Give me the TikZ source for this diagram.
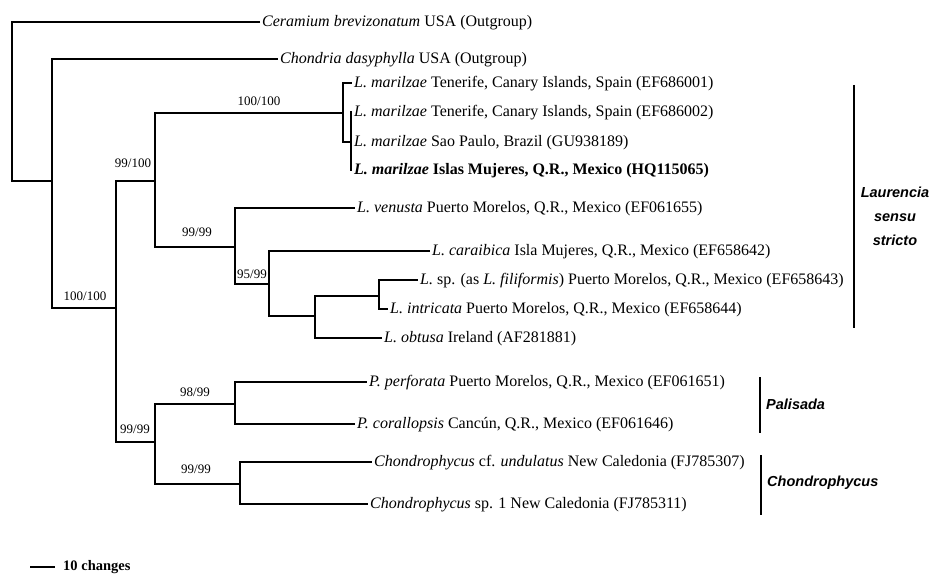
\documentclass[tikz,border=0pt]{standalone}
\usepackage{fontspec}
\setmainfont{Liberation Serif}
\newfontfamily\cladefont{Liberation Sans}
\usetikzlibrary{positioning}

\begin{document}
\begin{tikzpicture}[
    x=1bp, y=-1bp,
    branch/.style={line width=1.8bp},
    cladebar/.style={line width=2bp},
    taxon/.style={anchor=west, inner sep=2bp, font=\fontsize{16bp}{18bp}\selectfont, text height=12bp, text depth=3bp},
    boot/.style={inner sep=0pt, font=\fontsize{13bp}{15bp}\selectfont},
    clade/.style={inner sep=0pt, align=center, font=\cladefont\bfseries\itshape\fontsize{14.5bp}{24bp}\selectfont}
]
\useasboundingbox (0,0) rectangle (931,584);

% internal nodes
\coordinate (n0) at (12,181);
\coordinate (n1) at (52,181);
\coordinate (n2) at (116,308);
\coordinate (n3) at (155,181);
\coordinate (n4) at (343,113);
\coordinate (n4b) at (351,142);
\coordinate (n5) at (235,247);
\coordinate (n6) at (269,284);
\coordinate (n6b) at (315,316);
\coordinate (n6c) at (379,296);
\coordinate (n7) at (155,442);
\coordinate (n8) at (235,404);
\coordinate (n9) at (240,484);

% taxa
\node[taxon] (cer) at (260,22) {\textit{Ceramium brevizonatum} USA (Outgroup)};
\node[taxon] (cho) at (278,59) {\textit{Chondria dasyphylla} USA (Outgroup)};
\node[taxon] (mar1) at (352,83) {\textit{L. marilzae} Tenerife, Canary Islands, Spain (EF686001)};
\node[taxon] (mar2) at (352,112) {\textit{L. marilzae} Tenerife, Canary Islands, Spain (EF686002)};
\node[taxon] (mar3) at (352,142) {\textit{L. marilzae} Sao Paulo, Brazil (GU938189)};
\node[taxon] (mar4) at (352,170) {\textbf{\textit{L. marilzae} Islas Mujeres, Q.R., Mexico (HQ115065)}};
\node[taxon] (ven) at (355,208) {\textit{L. venusta} Puerto Morelos, Q.R., Mexico (EF061655)};
\node[taxon] (car) at (430,251) {\textit{L. caraibica} Isla Mujeres, Q.R., Mexico (EF658642)};
\node[taxon] (lsp) at (418,280) {\textit{L.} sp. (as \textit{L. filiformis}) Puerto Morelos, Q.R., Mexico (EF658643)};
\node[taxon] (intr) at (388,309) {\textit{L. intricata} Puerto Morelos, Q.R., Mexico (EF658644)};
\node[taxon] (obt) at (382,338) {\textit{L. obtusa} Ireland (AF281881)};
\node[taxon] (per) at (367,382) {\textit{P. perforata} Puerto Morelos, Q.R., Mexico (EF061651)};
\node[taxon] (cor) at (355,424) {\textit{P. corallopsis} Canc\'un, Q.R., Mexico (EF061646)};
\node[taxon] (cund) at (372,462) {\textit{Chondrophycus} cf. \textit{undulatus} New Caledonia (FJ785307)};
\node[taxon] (csp) at (368,504) {\textit{Chondrophycus} sp. 1 New Caledonia (FJ785311)};

% branches
\draw[branch] (cer.west) -| (n0) -- (n1);
\draw[branch] (n1) |- (cho.west);
\draw[branch] (n1) |- (n2);
\draw[branch] (n2) |- (n3);
\draw[branch] (n2) |- (n7);
\draw[branch] (n3) |- (n4);
\draw[branch] (n3) |- (n5);
\draw[branch] (n4) |- (mar1.west);
\draw[branch] (n4) |- (n4b);
\draw[branch] (n4b) |- (mar2.west);
\draw[branch] (n4b) |- (mar3.west);
\draw[branch] (n4b) |- (mar4.west);
\draw[branch] (n5) |- (ven.west);
\draw[branch] (n5) |- (n6);
\draw[branch] (n6) |- (car.west);
\draw[branch] (n6) |- (n6b);
\draw[branch] (n6b) |- (n6c);
\draw[branch] (n6b) |- (obt.west);
\draw[branch] (n6c) |- (lsp.west);
\draw[branch] (n6c) |- (intr.west);
\draw[branch] (n7) |- (n8);
\draw[branch] (n7) |- (n9);
\draw[branch] (n8) |- (per.west);
\draw[branch] (n8) |- (cor.west);
\draw[branch] (n9) |- (cund.west);
\draw[branch] (n9) |- (csp.west);

% support values
\node[boot] (b2) at (85,296) {100/100};
\node[boot] (b3) at (133,163) {99/100};
\node[boot] (b7) at (135,429) {99/99};
\node[boot] (b4) at (259,101) {100/100};
\node[boot] (b5) at (197,232) {99/99};
\node[boot] (b6) at (252,274) {95/99};
\node[boot] (b8) at (195,392) {98/99};
\node[boot] (b9) at (196,469) {99/99};

% clades
\coordinate (lssTop) at (854,85);
\coordinate (lssBot) at (854,328);
\draw[cladebar] (lssTop) -- (lssBot);
\node[clade] (lss) at (895,216) {Laurencia\\sensu\\stricto};

\coordinate (palTop) at (760,377);
\coordinate (palBot) at (760,433);
\draw[cladebar] (palTop) -- (palBot);
\node[clade, anchor=west] (pal) at (766,404) {Palisada};

\coordinate (chTop) at (761,455);
\coordinate (chBot) at (761,515);
\draw[cladebar] (chTop) -- (chBot);
\node[clade, anchor=west] (chd) at (767,483) {Chondrophycus};

% scale
\coordinate (sbL) at (30,567);
\coordinate (sbR) at (55,567);
\draw[line width=2.2bp] (sbL) -- (sbR);
\node[anchor=west, inner sep=0pt, font=\bfseries\fontsize{14.5bp}{16bp}\selectfont] (scale) at (63,567) {10 changes};

\end{tikzpicture}
\end{document}
